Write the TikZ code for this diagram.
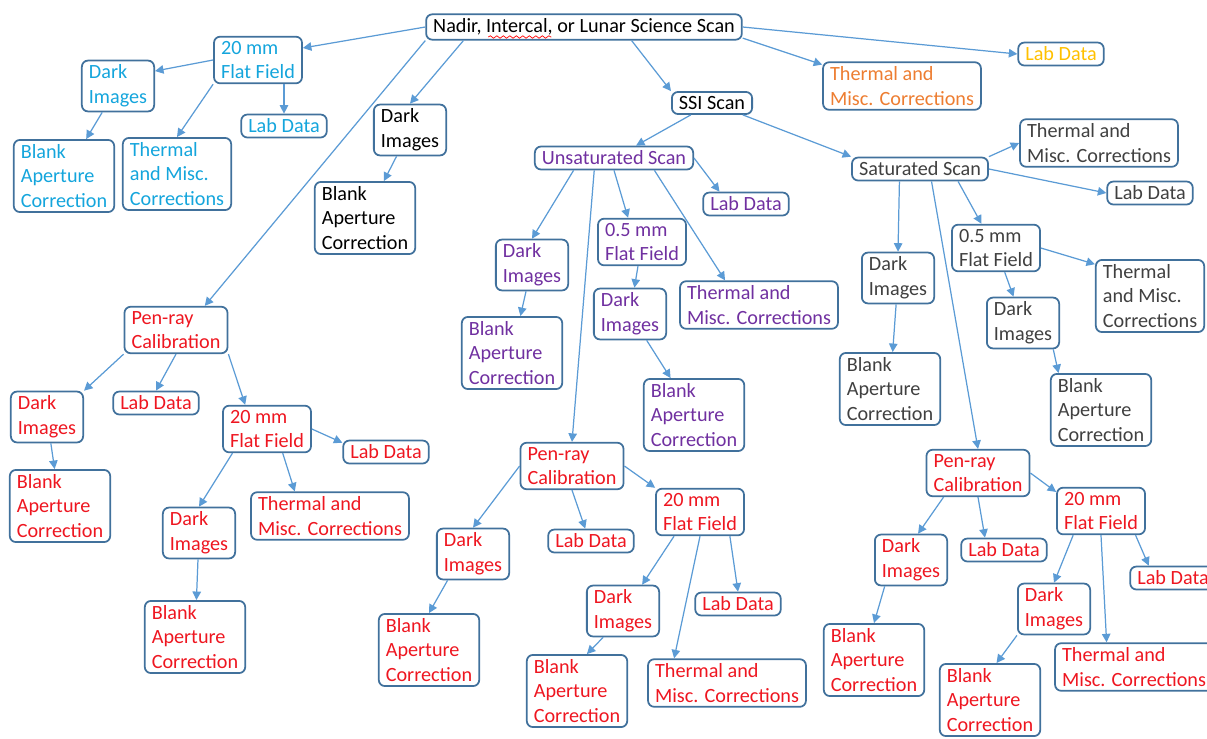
\documentclass[tikz,border=0pt]{standalone}
\usepackage{fontspec}
\setmainfont{Carlito}
\usetikzlibrary{arrows.meta,calc,decorations.pathmorphing}
\definecolor{boxline}{RGB}{65,113,156}
\definecolor{arrowblue}{RGB}{91,155,213}
\definecolor{skyblue}{RGB}{20,165,220}
\definecolor{scanpurple}{RGB}{112,48,160}
\definecolor{calred}{RGB}{238,22,32}
\definecolor{labgold}{RGB}{255,192,0}
\definecolor{thermorange}{RGB}{237,125,49}
\definecolor{satgrey}{RGB}{64,64,64}

\begin{document}
\begin{tikzpicture}[x=0.02cm, y=-0.02cm, >={Triangle[length=0.17cm,width=0.17cm]},
        box/.style={draw=boxline, line width=1pt, rounded corners=3.5pt, align=left, inner xsep=4pt, inner ysep=2.5pt, font=\fontsize{11.5}{14}\selectfont},
        link/.style={->, draw=arrowblue, line width=0.7pt}]
        \useasboundingbox (0,0) rectangle (1207,738);

        % Top level scan
        \node[box] (root) at (584,27) {Nadir, Intercal, or Lunar Science Scan};
        \draw[red, line width=0.4pt, decorate, decoration={snake, segment length=0.13cm, amplitude=0.025cm}] ($(root.west)+(63,10)$) -- ($(root.west)+(126,10)$);
        \node[box, text=thermorange] (thermtop) at (902,86) {Thermal and\\Misc. Corrections};
        \node[box, text=labgold] (labtop) at (1061,54) {Lab Data};
        \node[box] (ssi) at (712,103) {SSI Scan};

        % 20 mm flat field branch
        \node[box, text=skyblue] (ffsky) at (258,60) {20 mm\\Flat Field};
        \node[box, text=skyblue] (darksky) at (118,86) {Dark\\Images};
        \node[box, text=skyblue] (blanksky) at (64,176) {Blank\\Aperture\\Correction};
        \node[box, text=skyblue] (thermsky) at (177,174) {Thermal\\and Misc.\\Corrections};
        \node[box, text=skyblue] (labsky) at (284,126) {Lab Data};

        % Dark images branch
        \node[box] (darkblk) at (410,130) {Dark\\Images};
        \node[box] (blankblk) at (365,218) {Blank\\Aperture\\Correction};

        % Unsaturated scan
        \node[box, text=scanpurple] (unsat) at (614,158) {Unsaturated Scan};
        \node[box, text=scanpurple] (labpur) at (746,204) {Lab Data};
        \node[box, text=scanpurple] (darkpur) at (532,265) {Dark\\Images};
        \node[box, text=scanpurple] (blankpur) at (512,353) {Blank\\Aperture\\Correction};
        \node[box, text=scanpurple] (ffpur) at (642,242) {0.5 mm\\Flat Field};
        \node[box, text=scanpurple] (darkpurb) at (630,314) {Dark\\Images};
        \node[box, text=scanpurple] (blankpurb) at (694,415) {Blank\\Aperture\\Correction};
        \node[box, text=scanpurple] (thermpur) at (759,305) {Thermal and\\Misc. Corrections};

        % Saturated scan
        \node[box, text=satgrey] (sat) at (920,169) {Saturated Scan};
        \node[box, text=satgrey] (thermsat) at (1099,143) {Thermal and\\Misc. Corrections};
        \node[box, text=satgrey] (labsat) at (1150,193) {Lab Data};
        \node[box, text=satgrey] (ffsat) at (996,248) {0.5 mm\\Flat Field};
        \node[box, text=satgrey] (thermsatb) at (1150,296) {Thermal\\and Misc.\\Corrections};
        \node[box, text=satgrey] (darksat) at (898,278) {Dark\\Images};
        \node[box, text=satgrey] (blanksat) at (890,389) {Blank\\Aperture\\Correction};
        \node[box, text=satgrey] (darksatb) at (1023,323) {Dark\\Images};
        \node[box, text=satgrey] (blanksatb) at (1101,410) {Blank\\Aperture\\Correction};

        % Pen-ray calibration, left
        \node[box, text=calred] (penl) at (176,330) {Pen-ray\\Calibration};
        \node[box, text=calred] (darkl) at (47,417) {Dark\\Images};
        \node[box, text=calred] (labl) at (156,403) {Lab Data};
        \node[box, text=calred] (ffl) at (267,429) {20 mm\\Flat Field};
        \node[box, text=calred] (labl2) at (386,452) {Lab Data};
        \node[box, text=calred] (blankl) at (60,506) {Blank\\Aperture\\Correction};
        \node[box, text=calred] (darkl2) at (199,533) {Dark\\Images};
        \node[box, text=calred] (therml) at (330,516) {Thermal and\\Misc. Corrections};
        \node[box, text=calred] (blankl2) at (195,637) {Blank\\Aperture\\Correction};

        % Pen-ray calibration, middle
        \node[box, text=calred] (penm) at (572,466) {Pen-ray\\Calibration};
        \node[box, text=calred] (darkm) at (473,554) {Dark\\Images};
        \node[box, text=calred] (labm) at (591,541) {Lab Data};
        \node[box, text=calred] (ffm) at (700,512) {20 mm\\Flat Field};
        \node[box, text=calred] (labm2) at (738,604) {Lab Data};
        \node[box, text=calred] (darkm2) at (623,611) {Dark\\Images};
        \node[box, text=calred] (thermm) at (727,683) {Thermal and\\Misc. Corrections};
        \node[box, text=calred] (blankm) at (429,650) {Blank\\Aperture\\Correction};
        \node[box, text=calred] (blankm2) at (577,691) {Blank\\Aperture\\Correction};

        % Pen-ray calibration, right
        \node[box, text=calred] (penr) at (978,473) {Pen-ray\\Calibration};
        \node[box, text=calred] (darkr) at (911,560) {Dark\\Images};
        \node[box, text=calred] (labr) at (1004,550) {Lab Data};
        \node[box, text=calred] (ffr) at (1101,511) {20 mm\\Flat Field};
        \node[box, text=calred] (labr2) at (1173,578) {Lab Data};
        \node[box, text=calred] (darkr2) at (1054,609) {Dark\\Images};
        \node[box, text=calred] (thermr) at (1134,667) {Thermal and\\Misc. Corrections};
        \node[box, text=calred] (blankr) at (874,660) {Blank\\Aperture\\Correction};
        \node[box, text=calred] (blankr2) at (990,700) {Blank\\Aperture\\Correction};

        % Top level arrows
        \draw[link] (root.west) -- (ffsky.15);
        \draw[link] (root.south west) -- (penl.40);
        \draw[link] ($(root.south west)!0.12!(root.south east)$) -- (darkblk.north);
        \draw[link] ($(root.south west)!0.65!(root.south east)$) -- (ssi.north west);
        \draw[link] (root.-4) -- (thermtop.165);
        \draw[link] (root.east) -- (labtop.west);

        % Flat field and dark arrows
        \draw[link] (ffsky.west) -- (darksky.22);
        \draw[link] (ffsky.south west) -- (thermsky.north);
        \draw[link] (ffsky.south -| labsky.north) -- (labsky.north);
        \draw[link] (darksky) -- (blanksky);
        \draw[link] (darkblk) -- (blankblk);

        % SSI arrows
        \draw[link] (ssi) -- (unsat);
        \draw[link] (ssi) -- (sat.north west);

        % Unsaturated arrows
        \draw[link] (unsat.east) -- (labpur.155);
        \draw[link] (unsat.197) -- (darkpur.north);
        \draw[link] (unsat.south) -- (ffpur.120);
        \draw[link] (unsat.-17) -- (thermpur.144);
        \draw[link] (unsat.212) -- (penm.north);
        \draw[link] (darkpur) -- (blankpur);
        \draw[link] (ffpur) -- (darkpurb);
        \draw[link] (darkpurb) -- (blankpurb);

        % Saturated arrows
        \draw[link] (sat.north east) -- (thermsat.west);
        \draw[link] (sat.east) -- (labsat.west);
        \draw[link] (sat.-18) -- (ffsat.121);
        \draw[link] (sat.211) -- (darksat.north);
        \draw[link] (sat.313) -- (penr.north);
        \draw[link] (ffsat.east) -- (thermsatb.150);
        \draw[link] (ffsat) -- (darksatb);
        \draw[link] (darksat) -- (blanksat);
        \draw[link] (darksatb.-41) -- (blanksatb.139);

        % Left pen-ray arrows
        \draw[link] (penl.south west) -- (darkl.north east);
        \draw[link] (penl.south) -- (labl.north);
        \draw[link] (penl.south east) -- (ffl.132);
        \draw[link] (darkl) -- (blankl);
        \draw[link] (ffl.east) -- (labl2.168);
        \draw[link] (ffl.215) -- (darkl2.north);
        \draw[link] (ffl.-57) -- (therml.145);
        \draw[link] (darkl2) -- (blankl2);

        % Middle pen-ray arrows
        \draw[link] (penm.west) -- (darkm.north);
        \draw[link] (penm.south) -- (labm.115);
        \draw[link] (penm.east) -- (ffm.north west);
        \draw[link] (ffm.223) -- (darkm2.54);
        \draw[link] (ffm.south) -- (thermm.155);
        \draw[link] (ffm.-39) -- (labm2.north);
        \draw[link] (darkm.226) -- (blankm.north);
        \draw[link] (darkm2.233) -- (blankm2.75);

        % Right pen-ray arrows
        \draw[link] (penr.215) -- (darkr.75);
        \draw[link] (penr.south) -- (labr.147);
        \draw[link] (penr.east) -- (ffr.157);
        \draw[link] (ffr.221) -- (darkr2.north);
        \draw[link] (ffr.south) -- (thermr.138);
        \draw[link] (ffr.-35) -- (labr2.153);
        \draw[link] (darkr.225) -- (blankr.north);
        \draw[link] (darkr2.south west) -- (blankr2.80);
\end{tikzpicture}
\end{document}
